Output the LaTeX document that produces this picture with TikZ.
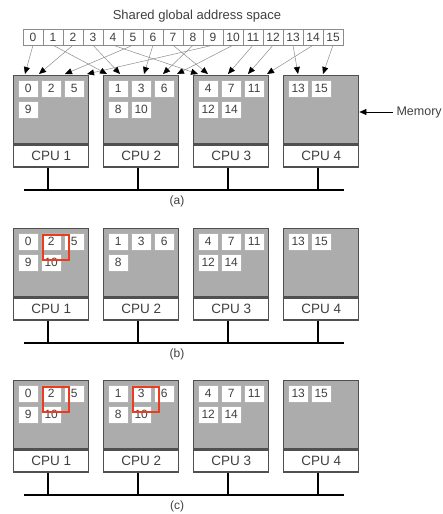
\documentclass[tikz,border=0pt]{standalone}
\usepackage{fontspec}
\setmainfont{Liberation Sans}
\usetikzlibrary{positioning,arrows.meta,calc}
\definecolor{memgray}{RGB}{172,172,172}
\definecolor{boxline}{RGB}{80,80,80}
\definecolor{hired}{RGB}{235,60,30}

\begin{document}
\begin{tikzpicture}[
    x=1pt, y=-1pt,
    font=\fontsize{12}{14}\selectfont,
    txt/.style={text=black!75},
    addrcell/.style={draw=black!45,fill=white,minimum width=20pt,minimum height=16pt,inner sep=0pt,txt},
    cell/.style={draw=black!30,fill=white,minimum width=20pt,minimum height=17pt,inner sep=0pt,anchor=north west,txt},
    mem/.style={draw=boxline,line width=1.4pt,fill=memgray,minimum width=75pt,minimum height=68pt,inner sep=0pt,anchor=north west},
    cpu/.style={draw=boxline,line width=1.4pt,fill=white,minimum width=75pt,minimum height=22pt,inner sep=0pt,txt,font=\fontsize{13.5}{15}\selectfont},
    link/.style={draw=black!45,line width=0.5pt,-{Triangle[length=7pt,width=6pt,color=black]}},
    bus/.style={line width=2pt},
    hilite/.style={draw=hired,line width=1.6pt,minimum width=26pt,minimum height=25pt,anchor=north west,inner sep=0pt}
]
\useasboundingbox (0,0) rectangle (442,514);

% shared address space
\node[txt,font=\fontsize{13}{15}\selectfont] (title) at (197,16) {Shared global address space};
\foreach \i in {0,...,15}
    \node[addrcell] (a\i) at ({33+20*\i},37) {\i};

% the three machines
\foreach \p/\top in {a/75,b/228,c/380} {
    \foreach \k in {1,...,4} {
        \node[mem] (mem-\p-\k) at ({13+90*(\k-1)},\top) {};
        \node[cpu,below=0pt of mem-\p-\k] (cpu-\p-\k) {CPU \k};
    }
    \coordinate (bus-\p-l) at (24,{\top+115});
    \coordinate (bus-\p-r) at (344,{\top+115});
    \draw[bus] (bus-\p-l) -- (bus-\p-r);
    \foreach \k in {1,...,4}
        \draw[bus] ([xshift=-3pt]cpu-\p-\k.south) -- ([xshift=-3pt]cpu-\p-\k.south |- bus-\p-l);
    \node[txt] (lbl-\p) at (177,{\top+126}) {(\p)};
    % pages held by each memory
    \foreach \k/\c/\r/\v in {1/0/0/0,1/1/0/2,1/2/0/5,1/0/1/9,
                             2/0/0/1,2/1/0/3,2/2/0/6,2/0/1/8,
                             3/0/0/4,3/1/0/7,3/2/0/11,3/0/1/12,3/1/1/14,
                             4/0/0/13,4/1/0/15}
        \node[cell] (c-\p-\k-\v) at ($(mem-\p-\k.north west)+({5+23*\c},{5+21*\r})$) {\v};
}

% page 10 moves around
\foreach \p/\k in {a/2,b/1,c/1,c/2}
    \node[cell] (c-\p-\k-10) at ($(mem-\p-\k.north west)+(28,26)$) {10};

% referenced pages
\foreach \p/\k/\v in {b/1/2,c/1/2,c/2/3}
    \node[hilite] (hl-\p-\k) at ($(c-\p-\k-\v.north west)+(1,1)$) {};

% where each page lives
\foreach \i/\x in {0/25,2/39,5/65,9/87,1/107,3/120,6/144,8/163,10/177,
                   4/198,7/208,11/228,12/248,14/267,13/298,15/323} {
    \coordinate (in\i) at (\x,74);
    \draw[link] (a\i.south) -- (in\i);
}

\node[txt,anchor=west,font=\fontsize{12.5}{15}\selectfont] (memlbl) at (393,112) {Memory};
\draw[link,black] (memlbl.west) -- (memlbl.west -| mem-a-4.east);

\end{tikzpicture}
\end{document}
